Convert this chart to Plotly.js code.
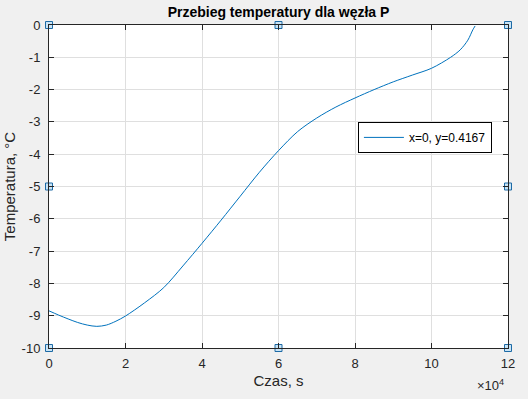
<!DOCTYPE html>
<html>
<head>
<meta charset="utf-8">
<script src="https://cdn.plot.ly/plotly-3.0.1.min.js"></script>
<style>html,body{margin:0;padding:0;background:#f0f0f0;}#chart{width:528px;height:399px;}</style>
</head>
<body>
<div id="chart"></div>
<script>
// Time, s
const timeS = [0, 2500, 5000, 7500, 10000, 12500, 15000, 17500, 20000, 25000, 30000, 35000, 40000, 45000, 50000, 55000, 60000, 65000, 70000, 75000, 80000, 85000, 90000, 95000, 100000, 105000, 107500, 109500, 110800, 111400];
// Temperature, °C
const tempC = [-8.85, -8.98, -9.1, -9.21, -9.29, -9.33, -9.29, -9.17, -9.01, -8.6, -8.13, -7.46, -6.76, -6.04, -5.3, -4.56, -3.89, -3.3, -2.88, -2.54, -2.26, -2.0, -1.76, -1.55, -1.34, -1.0, -0.77, -0.47, -0.15, -0.03];
const seriesName = 'x=0, y=0.4167';

const xTickVals = [0, 20000, 40000, 60000, 80000, 100000, 120000];
const xTickText = ['0', '2', '4', '6', '8', '10', '12'];
const yTickVals = [0, -1, -2, -3, -4, -5, -6, -7, -8, -9, -10];
const yTickText = ['0', '-1', '-2', '-3', '-4', '-5', '-6', '-7', '-8', '-9', '-10'];

// selection handles on axes box
const handleX = [0, 60000, 120000, 0, 120000, 0, 60000, 120000];
const handleY = [0, 0, 0, -5, -5, -10, -10, -10];

const font = 'Liberation Sans, Arial, Helvetica, sans-serif';

const traces = [
  {x: timeS, y: tempC, type: 'scatter', mode: 'lines', name: seriesName,
   line: {color: '#0072bd', width: 1, shape: 'spline', smoothing: 0.9}},
  {x: handleX, y: handleY, type: 'scatter', mode: 'markers', showlegend: false,
   cliponaxis: false, hoverinfo: 'skip',
   marker: {symbol: 'square', size: 7, color: '#c9e4f6', line: {color: '#1d6aa5', width: 1}}}
];

const axisCommon = {
  showline: true, linecolor: '#262626', linewidth: 1, mirror: 'allticks',
  ticks: 'inside', ticklen: 5, tickcolor: '#262626', tickwidth: 1,
  showgrid: true, gridcolor: '#dfdfdf', gridwidth: 1, zeroline: false,
  tickfont: {family: font, size: 13, color: '#262626'}, fixedrange: true
};

const layout = {
  width: 528, height: 399,
  paper_bgcolor: '#f0f0f0', plot_bgcolor: '#ffffff',
  margin: {l: 49, r: 20, t: 25, b: 51},
  title: {text: '<b>Przebieg temperatury dla węzła P</b>', font: {family: font, size: 14, color: '#000'},
          x: 0.5, xref: 'paper', xanchor: 'center', y: 0.97, yref: 'container', yanchor: 'middle'},
  xaxis: Object.assign({}, axisCommon, {range: [0, 120000], tickmode: 'array', tickvals: xTickVals, ticktext: xTickText,
    ticklabelstandoff: 3,
    title: {text: 'Czas, s', font: {family: font, size: 15, color: '#262626'}, standoff: 5}}),
  yaxis: Object.assign({}, axisCommon, {range: [-10, 0], tickmode: 'array', tickvals: yTickVals, ticktext: yTickText,
    ticklabelstandoff: 5,
    title: {text: 'Temperatura, °C', font: {family: font, size: 15, color: '#262626'}, standoff: 2}}),
  showlegend: true,
  legend: {x: 0.673, y: 0.70, xanchor: 'left', yanchor: 'top', bgcolor: '#ffffff',
    bordercolor: '#000000', borderwidth: 1, font: {family: font, size: 12, color: '#000'},
    itemwidth: 40, tracegroupgap: 0},
  annotations: [
    {xref: 'paper', yref: 'paper', x: 0.995, y: -0.085, xanchor: 'right', yanchor: 'top', showarrow: false,
     text: '×10<sup>4</sup>', font: {family: font, size: 13, color: '#262626'}}
  ]
};

Plotly.newPlot('chart', traces, layout, {displayModeBar: false, staticPlot: true});
</script>
</body>
</html>
